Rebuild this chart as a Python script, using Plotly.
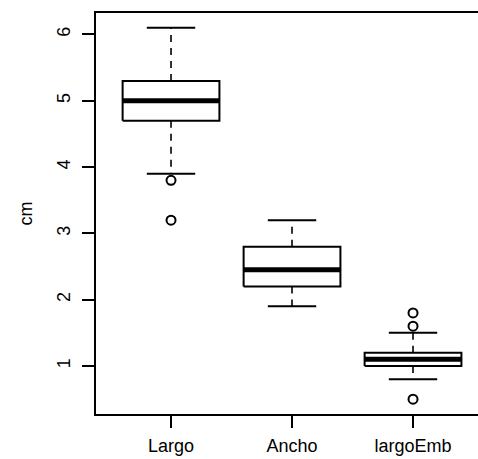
import plotly.graph_objects as go

categories = ["Largo", "Ancho", "largoEmb"]
lower_whisker = [3.9, 1.9, 0.8]
q1 = [4.7, 2.2, 1.0]
median = [5.0, 2.45, 1.1]
q3 = [5.3, 2.8, 1.2]
upper_whisker = [6.1, 3.2, 1.5]
outliers = [[3.8, 3.2], [], [1.8, 1.6, 0.5]]
y_ticks = [1, 2, 3, 4, 5, 6]

FONT = "Liberation Sans, Arial, sans-serif"
half_box = 0.4
half_cap = 0.2

fig = go.Figure()
for i, name in enumerate(categories):
    x = i + 1
    fig.add_trace(go.Scatter(x=[x, x, None, x, x], y=[q3[i], upper_whisker[i], None, q1[i], lower_whisker[i]],
                             mode="lines", line=dict(color="black", width=1.6, dash="7px,6px"),
                             hoverinfo="skip", showlegend=False))
    fig.add_trace(go.Scatter(x=[x - half_cap, x + half_cap, None, x - half_cap, x + half_cap],
                             y=[upper_whisker[i], upper_whisker[i], None, lower_whisker[i], lower_whisker[i]],
                             mode="lines", line=dict(color="black", width=2),
                             hoverinfo="skip", showlegend=False))
    fig.add_trace(go.Scatter(x=[x - half_box, x + half_box, x + half_box, x - half_box, x - half_box],
                             y=[q1[i], q1[i], q3[i], q3[i], q1[i]],
                             mode="lines", fill="toself", fillcolor="white",
                             line=dict(color="black", width=2),
                             hoverinfo="skip", showlegend=False))
    fig.add_trace(go.Scatter(x=[x - half_box, x + half_box], y=[median[i], median[i]],
                             mode="lines", line=dict(color="black", width=5),
                             hoverinfo="skip", showlegend=False))
    if outliers[i]:
        fig.add_trace(go.Scatter(x=[x] * len(outliers[i]), y=outliers[i], mode="markers",
                                 marker=dict(symbol="circle-open", size=9, color="black",
                                             line=dict(width=2, color="black")),
                                 hoverinfo="skip", showlegend=False))

fig.update_layout(
    width=478, height=459,
    margin=dict(l=96, r=0, t=13, b=45, autoexpand=False),
    paper_bgcolor="white", plot_bgcolor="white",
    font=dict(family=FONT, size=18, color="black"),
    xaxis=dict(range=[0.38, 3.537], tickmode="array", tickvals=[1, 2, 3], ticktext=categories,
               showgrid=False, zeroline=False, showline=True, linecolor="black", linewidth=2,
               mirror=True, ticks="outside", ticklen=12, tickwidth=2, tickcolor="black",
               ticklabelstandoff=2, tickfont=dict(size=18, family=FONT), automargin=False),
    yaxis=dict(range=[0.276, 6.324], tickmode="array", tickvals=y_ticks,
               ticktext=[str(t) for t in y_ticks], tickangle=-90,
               showgrid=False, zeroline=False, showline=True, linecolor="black", linewidth=2,
               ticks="outside", ticklen=12, tickwidth=2, tickcolor="black",
               ticklabelstandoff=5, tickfont=dict(size=18, family=FONT), automargin=False,
               title=dict(text="cm", standoff=16, font=dict(size=18, family=FONT))),
)

fig.write_html("out.html", config={"displayModeBar": False},
               post_script="document.body.style.margin='0';document.body.style.overflow='hidden';")
